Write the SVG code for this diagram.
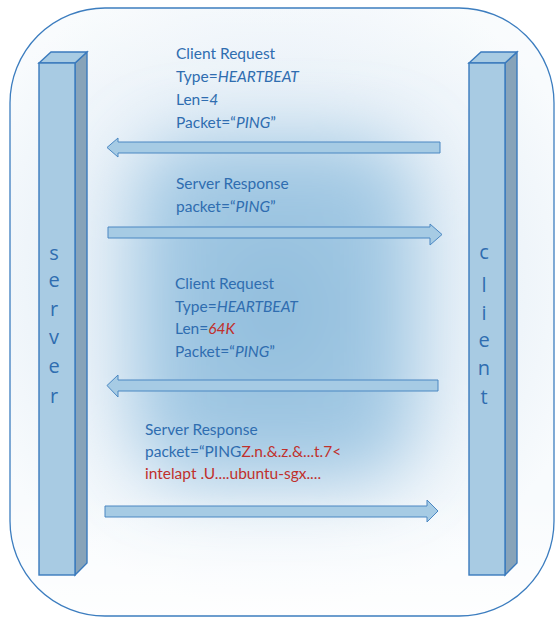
<svg xmlns="http://www.w3.org/2000/svg" width="555" height="619" viewBox="0 0 555 619">
  <defs>
    <radialGradient id="ambient" gradientUnits="userSpaceOnUse" cx="275" cy="280" r="330">
      <stop offset="0" stop-color="#d6e7f3"/>
      <stop offset="0.6" stop-color="#e9f1f8"/>
      <stop offset="1" stop-color="#f8fbfd"/>
    </radialGradient>
    <linearGradient id="fade" x1="0" y1="0" x2="0" y2="1">
      <stop offset="0" stop-color="#ffffff" stop-opacity="0.2"/>
      <stop offset="0.15" stop-color="#ffffff" stop-opacity="0"/>
      <stop offset="0.8" stop-color="#ffffff" stop-opacity="0"/>
      <stop offset="1" stop-color="#ffffff" stop-opacity="0.85"/>
    </linearGradient>
    <radialGradient id="core" cx="0.5" cy="0.5" r="0.5">
      <stop offset="0" stop-color="#8fbcdc"/>
      <stop offset="1" stop-color="#a6cbe5"/>
    </radialGradient>
    <filter id="soft" x="-50%" y="-50%" width="200%" height="200%">
      <feGaussianBlur stdDeviation="34"/>
    </filter>
    <clipPath id="frameClip">
      <rect x="10" y="8" width="544" height="608" rx="95" ry="95"/>
    </clipPath>
    <style>
      .frame { stroke: #3c7dbf; stroke-width: 1.3; }
      .front { fill: #a8cbe3; stroke: #3a7abd; stroke-width: 1.4; }
      .side { fill: #87a3b9; stroke: #3a7abd; stroke-width: 1.4; }
      .top { fill: #a8cbe3; stroke: #3a7abd; stroke-width: 1.4; }
      .arrow { fill: #a6cbe4; stroke: #4a87c2; stroke-width: 1; }
      .lbl { font-family: Lato, "Open Sans", sans-serif; font-size: 15.5px; fill: #2f6db0; }
      .name { font-family: "Open Sans", Lato, sans-serif; font-size: 20px; fill: #2f6db0; text-anchor: middle; }
      .it { font-style: italic; }
      .red { fill: #c0302c; }
    </style>
  </defs>

  <!-- background frame with soft central glow -->
  <rect x="10" y="8" width="544" height="608" rx="95" ry="95" fill="url(#ambient)"/>
  <g clip-path="url(#frameClip)">
    <rect x="135" y="140" width="280" height="340" rx="60" fill="url(#core)" filter="url(#soft)"/>
  </g>
  <rect x="10" y="8" width="544" height="608" rx="95" ry="95" fill="url(#fade)" class="frame"/>

  <!-- server pillar -->
  <g id="server">
    <polygon class="side" points="75,63 87,52 87,563 75,575"/>
    <polygon class="top" points="39,63 51,52 87,52 75,63"/>
    <rect class="front" x="39" y="63" width="36" height="512"/>
    <text class="name" x="54" y="260">s</text>
    <text class="name" x="54" y="287">e</text>
    <text class="name" x="54" y="316">r</text>
    <text class="name" x="54" y="344">v</text>
    <text class="name" x="54" y="373">e</text>
    <text class="name" x="54" y="403">r</text>
  </g>

  <!-- client pillar -->
  <g id="client">
    <polygon class="side" points="505,63 517,52 517,563 505,575"/>
    <polygon class="top" points="469,63 481,52 517,52 505,63"/>
    <rect class="front" x="469" y="63" width="36" height="512"/>
    <text class="name" x="484" y="259">c</text>
    <text class="name" x="484" y="292">l</text>
    <text class="name" x="484" y="320">i</text>
    <text class="name" x="484" y="347">e</text>
    <text class="name" x="484" y="375">n</text>
    <text class="name" x="484" y="404">t</text>
  </g>

  <!-- message arrows -->
  <g id="connectors">
    <polygon class="arrow" points="107,147.5 118,138 118,142 440,142 440,153 118,153 118,157"/>
    <polygon class="arrow" points="442,234.5 430,224 430,227 108,227 108,238 430,238 430,245"/>
    <polygon class="arrow" points="107,385.5 118,375 118,380 438,380 438,391 118,391 118,397"/>
    <polygon class="arrow" points="438,511 427,500 427,506 105,506 105,517 427,517 427,522"/>
  </g>

  <!-- message labels -->
  <g id="labels">
    <text class="lbl" x="176" y="59">Client Request</text>
    <text class="lbl" x="176" y="82">Type=<tspan class="it">HEARTBEAT</tspan></text>
    <text class="lbl" x="176" y="105">Len=<tspan class="it">4</tspan></text>
    <text class="lbl" x="176" y="128">Packet=“<tspan class="it">PING</tspan>”</text>

    <text class="lbl" x="176" y="189">Server Response</text>
    <text class="lbl" x="176" y="212">packet=“<tspan class="it">PING</tspan>”</text>

    <text class="lbl" x="175" y="289">Client Request</text>
    <text class="lbl" x="175" y="312">Type=<tspan class="it">HEARTBEAT</tspan></text>
    <text class="lbl" x="175" y="334">Len=<tspan class="it red">64K</tspan></text>
    <text class="lbl" x="175" y="357">Packet=“<tspan class="it">PING</tspan>”</text>

    <text class="lbl" x="145" y="435">Server Response</text>
    <text class="lbl" x="145" y="457">packet=“PING<tspan class="red">Z.n.&amp;.z.&amp;...t.7&lt;</tspan></text>
    <text class="lbl red" x="145" y="479">intelapt .U....ubuntu-sgx....</text>
  </g>
</svg>
